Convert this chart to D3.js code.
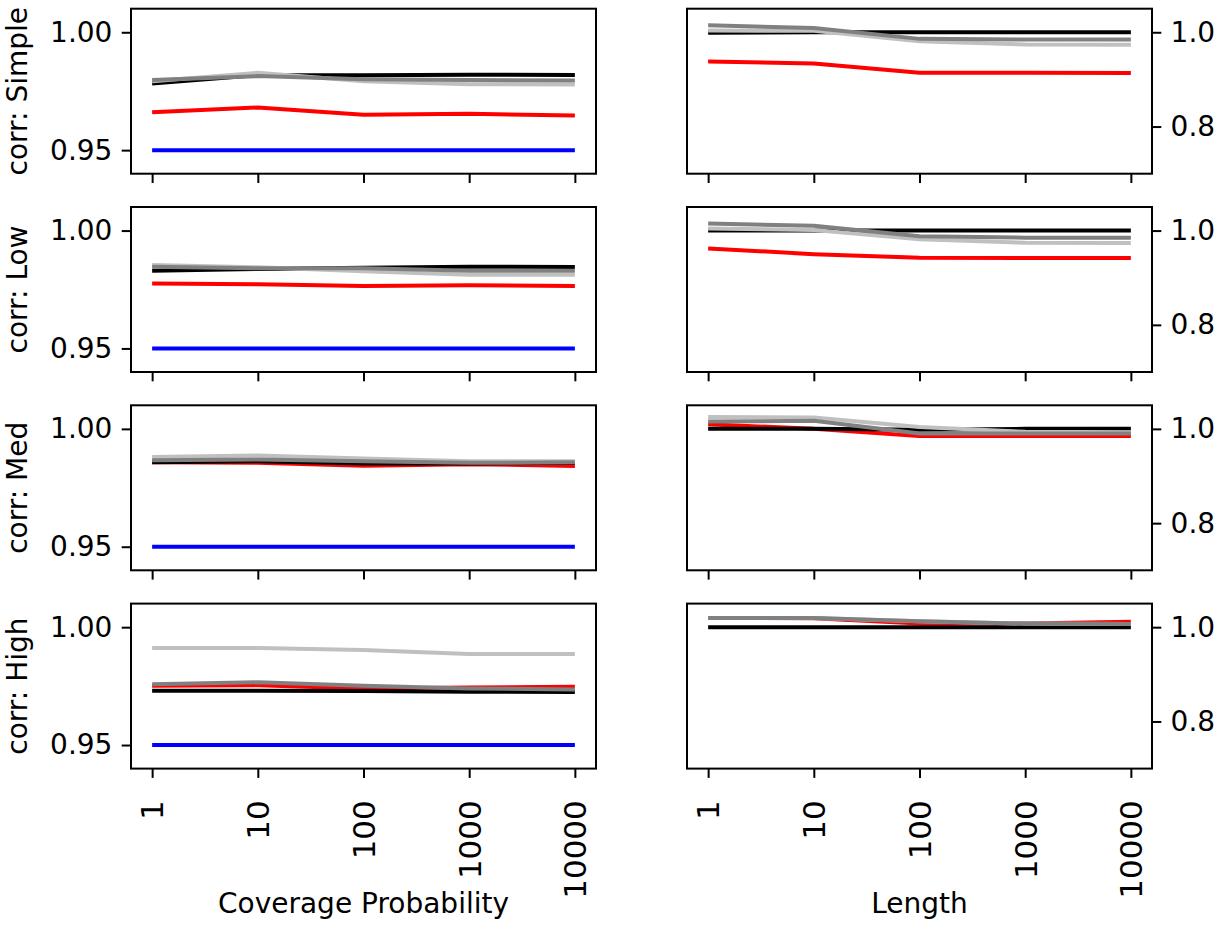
<!DOCTYPE html>
<html>
<head>
<meta charset="utf-8">
<script src="https://cdn.jsdelivr.net/npm/d3@7"></script>
<style>
  body { margin: 0; background: #fff; }
  svg { display: block; font-family: "DejaVu Sans", sans-serif; }
</style>
</head>
<body>
<svg id="chart"></svg>
<script>
const width = 1229;
const height = 926;

// donnees
const xValues = [1, 10, 100, 1000, 10000];
const rowNames = ["Simple", "Low", "Med", "High"];
const nominal = 0.95;

// coverage probability, une ligne par rangee
const covBlack = [
  [0.9783, 0.9818, 0.9818, 0.9820, 0.9819],
  [0.9830, 0.9837, 0.9842, 0.9847, 0.9845],
  [0.9858, 0.9863, 0.9853, 0.9853, 0.9856],
  [0.9730, 0.9730, 0.9729, 0.9726, 0.9725]
];
const covGray = [
  [0.9797, 0.9814, 0.9801, 0.9797, 0.9795],
  [0.9847, 0.9840, 0.9840, 0.9830, 0.9830],
  [0.9867, 0.9870, 0.9863, 0.9856, 0.9858],
  [0.9758, 0.9766, 0.9751, 0.9740, 0.9736]
];
const covSilver = [
  [0.9792, 0.9828, 0.9792, 0.9780, 0.9778],
  [0.9854, 0.9844, 0.9827, 0.9813, 0.9813],
  [0.9881, 0.9887, 0.9874, 0.9863, 0.9863],
  [0.9912, 0.9912, 0.9903, 0.9886, 0.9886]
];
const covRed = [
  [0.9661, 0.9681, 0.9650, 0.9654, 0.9647],
  [0.9775, 0.9772, 0.9765, 0.9768, 0.9765],
  [0.9858, 0.9856, 0.9844, 0.9850, 0.9843],
  [0.9751, 0.9754, 0.9740, 0.9744, 0.9747]
];

// length
const lenBlack = [
  [0.999, 1.000, 1.000, 1.000, 1.000],
  [1.000, 1.000, 1.000, 1.000, 1.000],
  [1.000, 1.000, 0.998, 1.000, 1.000],
  [1.000, 1.000, 1.000, 1.000, 1.000]
];
const lenGray = [
  [1.0148, 1.0090, 0.9860, 0.9845, 0.9845],
  [1.0150, 1.0100, 0.9880, 0.9850, 0.9850],
  [1.0156, 1.0170, 0.9900, 0.9900, 0.9900],
  [1.0197, 1.0197, 1.0127, 1.0077, 1.0065]
];
const lenSilver = [
  [1.0040, 1.0030, 0.9810, 0.9740, 0.9735],
  [1.0046, 1.0010, 0.9814, 0.9740, 0.9735],
  [1.0250, 1.0240, 1.0040, 0.9937, 0.9930],
  [1.0197, 1.0197, 1.0127, 1.0077, 1.0065]
];
const lenRed = [
  [0.9380, 0.9340, 0.9140, 0.9140, 0.9135],
  [0.9620, 0.9500, 0.9426, 0.9420, 0.9420],
  [1.0100, 1.0000, 0.9850, 0.9850, 0.9850],
  [1.0197, 1.0190, 1.0077, 1.0077, 1.0113]
];

// mise en page
const panelW = 465;
const panelH = 165;
const colX = [131, 687];
const rowY0 = 8.7;
const rowStep = 198.3;
const tickLen = 9.3;
const fontSize = 28;
const xTickFont = 31;

const svg = d3.select("#chart")
  .attr("width", width)
  .attr("height", height);

svg.append("rect")
  .attr("width", width)
  .attr("height", height)
  .attr("fill", "#fff");

const line = (x, y) => d3.line()
  .x((d, i) => x(xValues[i]))
  .y(d => y(d));

function drawPanel(col, row, yDomain, series, showNominal) {
  const x0 = colX[col];
  const y0 = rowY0 + row * rowStep;

  const x = d3.scaleLog()
    .domain([Math.pow(10, -0.2), Math.pow(10, 4.2)])
    .range([x0, x0 + panelW]);
  const y = d3.scaleLinear()
    .domain(yDomain)
    .range([y0 + panelH, y0]);

  const g = svg.append("g");

  if (showNominal) {
    g.append("path")
      .datum(xValues.map(() => nominal))
      .attr("d", line(x, y))
      .attr("fill", "none")
      .attr("stroke", "#0000ff")
      .attr("stroke-width", 4);
  }

  series.forEach(s => {
    g.append("path")
      .datum(s.values)
      .attr("d", line(x, y))
      .attr("fill", "none")
      .attr("stroke", s.color)
      .attr("stroke-width", 4)
      .attr("stroke-linejoin", "round");
  });

  // axe x
  const xAxis = g.append("g")
    .attr("transform", `translate(0,${y0 + panelH})`)
    .call(d3.axisBottom(x)
      .tickValues(xValues)
      .tickSize(tickLen)
      .tickFormat(d => row === 3 ? d3.format("d")(d) : ""));

  // axe y
  if (col === 0) {
    g.append("g")
      .attr("transform", `translate(${x0},0)`)
      .call(d3.axisLeft(y)
        .tickValues([0.95, 1.00])
        .tickSize(tickLen)
        .tickPadding(tickLen)
        .tickFormat(d3.format(".2f")));
  } else {
    g.append("g")
      .attr("transform", `translate(${x0 + panelW},0)`)
      .call(d3.axisRight(y)
        .tickValues([0.8, 1.0])
        .tickSize(tickLen)
        .tickPadding(tickLen)
        .tickFormat(d3.format(".1f")));
  }

  g.selectAll(".domain").remove();
  g.selectAll(".tick line").attr("stroke", "#000").attr("stroke-width", 2);
  g.selectAll(".tick text")
    .attr("fill", "#000")
    .style("font-size", fontSize + "px")
    .style("font-family", "DejaVu Sans");

  // labels x verticaux
  xAxis.selectAll("text")
    .attr("transform", "rotate(-90)")
    .attr("x", -(tickLen * 2 + 13))
    .attr("y", 0)
    .attr("dy", "0.35em")
    .attr("text-anchor", "end")
    .style("font-size", xTickFont + "px");

  // cadre
  g.append("rect")
    .attr("x", x0)
    .attr("y", y0)
    .attr("width", panelW)
    .attr("height", panelH)
    .attr("fill", "none")
    .attr("stroke", "#000")
    .attr("stroke-width", 2);

  if (col === 0) {
    svg.append("text")
      .attr("transform", `translate(27,${y0 + panelH / 2}) rotate(-90)`)
      .attr("text-anchor", "middle")
      .style("font-size", fontSize + "px")
      .text("corr: " + rowNames[row]);
  }
}

rowNames.forEach((name, r) => {
  drawPanel(0, r, [0.94, 1.01], [
    { values: covRed[r], color: "#ff0000" },
    { values: covBlack[r], color: "#000000" },
    { values: covSilver[r], color: "#c0c0c0" },
    { values: covGray[r], color: "#808080" }
  ], true);

  drawPanel(1, r, [0.70, 1.05], [
    { values: lenRed[r], color: "#ff0000" },
    { values: lenBlack[r], color: "#000000" },
    { values: lenSilver[r], color: "#c0c0c0" },
    { values: lenGray[r], color: "#808080" }
  ], false);
});

// titres des axes x
svg.append("text")
  .attr("x", colX[0] + panelW / 2)
  .attr("y", 913)
  .attr("text-anchor", "middle")
  .style("font-size", fontSize + "px")
  .text("Coverage Probability");

svg.append("text")
  .attr("x", colX[1] + panelW / 2)
  .attr("y", 913)
  .attr("text-anchor", "middle")
  .style("font-size", fontSize + "px")
  .text("Length");
</script>
</body>
</html>
